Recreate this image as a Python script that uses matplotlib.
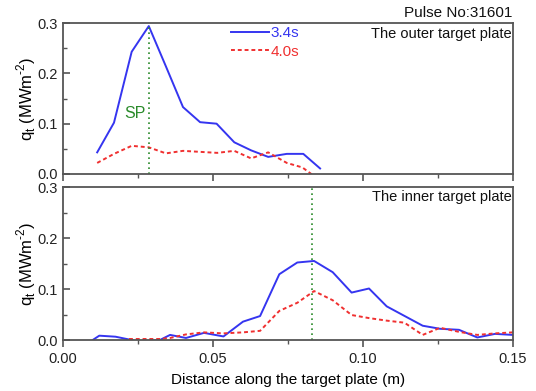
import matplotlib
matplotlib.use("Agg")
import matplotlib.pyplot as plt
from matplotlib.ticker import MultipleLocator

plt.rcParams['font.family'] = ['Liberation Sans', 'DejaVu Sans']
plt.rcParams['mathtext.fontset'] = 'custom'
plt.rcParams['mathtext.rm'] = 'Liberation Sans'

# Outer target plate
outer_x_34 = [0.0114, 0.0170, 0.0229, 0.0286, 0.0343, 0.0400, 0.0457, 0.0512, 0.0571,
              0.0627, 0.0684, 0.0746, 0.0801, 0.0857]
outer_q_34 = [0.043, 0.102, 0.243, 0.294, 0.214, 0.133, 0.103, 0.100, 0.063,
              0.047, 0.034, 0.040, 0.040, 0.011]
outer_x_40 = [0.0114, 0.0170, 0.0229, 0.0286, 0.0343, 0.0400, 0.0457, 0.0514, 0.0571,
              0.0627, 0.0684, 0.0746, 0.0798, 0.0855]
outer_q_40 = [0.022, 0.040, 0.056, 0.053, 0.041, 0.046, 0.044, 0.042, 0.046,
              0.031, 0.043, 0.022, 0.013, -0.012]

# Inner target plate
inner_x_34 = [0.0099, 0.0121, 0.0175, 0.0229, 0.0250, 0.0323, 0.0357, 0.0410, 0.0470,
              0.0535, 0.0600, 0.0657, 0.0721, 0.0781, 0.0837, 0.0899, 0.0962, 0.1020,
              0.1079, 0.1199, 0.1257, 0.1320, 0.1381, 0.1440, 0.1500]
inner_q_34 = [0.000, 0.0085, 0.0065, 0.000, -0.003, 0.000, 0.010, 0.004, 0.014,
              0.007, 0.036, 0.047, 0.129, 0.152, 0.155, 0.133, 0.093, 0.101,
              0.066, 0.028, 0.022, 0.020, 0.005, 0.012, 0.010]
inner_x_40 = [0.0220, 0.0270, 0.0323, 0.0357, 0.0410, 0.0470, 0.0535, 0.0600, 0.0657,
              0.0721, 0.0781, 0.0837, 0.0899, 0.0962, 0.1020, 0.1079, 0.1138, 0.1199,
              0.1257, 0.1320, 0.1381, 0.1440, 0.1500]
inner_q_40 = [0.002, 0.002, 0.002, 0.004, 0.011, 0.015, 0.013, 0.015, 0.018,
              0.057, 0.073, 0.096, 0.078, 0.049, 0.043, 0.038, 0.034, 0.010,
              0.024, 0.016, 0.010, 0.013, 0.015]

sp_outer_x = 0.0286
sp_outer_top = 0.294
sp_inner_x = 0.0831

series_labels = ["3.4s", "4.0s"]
x_ticks = [0.00, 0.05, 0.10, 0.15]
y_ticks = [0.0, 0.1, 0.2, 0.3]

BLUE = '#3535f0'
RED = '#f03030'
GREEN = '#2a8a2a'
SPINE = '#555555'

fig = plt.figure(figsize=(5.36, 3.91), dpi=100)
ax1 = fig.add_axes([0.1175, 0.555, 0.8396, 0.386])
ax2 = fig.add_axes([0.1175, 0.1304, 0.8396, 0.3913])

for ax in (ax1, ax2):
    ax.set_xlim(0, 0.15)
    ax.set_ylim(0, 0.3)
    ax.set_xticks(x_ticks)
    ax.set_yticks(y_ticks)
    ax.xaxis.set_minor_locator(MultipleLocator(0.025))
    ax.yaxis.set_minor_locator(MultipleLocator(0.05))
    ax.tick_params(axis='x', which='both', direction='out', colors=SPINE, labelcolor='#222222', labelsize=10.5)
    ax.tick_params(axis='x', which='major', length=5, width=1.2)
    ax.tick_params(axis='x', which='minor', length=3, width=1.0)
    ax.tick_params(axis='y', which='both', direction='in', colors=SPINE, labelcolor='#222222', labelsize=10.5)
    ax.tick_params(axis='y', which='major', length=5, width=1.2)
    ax.tick_params(axis='y', which='minor', length=3, width=1.0)
    for s in ax.spines.values():
        s.set_color(SPINE)
        s.set_linewidth(1.3)
    ax.set_yticklabels(['0.0', '0.1', '0.2', '0.3'])
    ax.set_ylabel(r'q$_{\mathrm{t}}$ (MWm$^{\mathrm{\text{-}2}}$)', fontsize=12, labelpad=0)

ax1.set_xticklabels([])
ax2.set_xticklabels(['0.00', '0.05', '0.10', '0.15'])
ax2.set_xlabel('Distance along the target plate (m)', fontsize=11, labelpad=5)

# Outer
ax1.plot(outer_x_34, outer_q_34, color=BLUE, lw=1.4, label=series_labels[0])
ax1.plot(outer_x_40, outer_q_40, color=RED, lw=1.4, ls=(0, (2, 1.5)), label=series_labels[1])
ax1.plot([sp_outer_x, sp_outer_x], [0, sp_outer_top], color=GREEN, lw=1.2, ls=(0, (1, 2)))
ax1.text(sp_outer_x - 0.0012, 0.121, 'SP', color=GREEN, fontsize=11.5, ha='right', va='center')
ax1.text(0.1495, 0.293, 'The outer target plate', ha='right', va='top', fontsize=10.5, color='#111111')
leg = ax1.legend(loc='upper left', bbox_to_anchor=(0.36, 1.02), frameon=False, fontsize=11,
                 handlelength=2.5, handletextpad=0.1, labelspacing=0.3, borderaxespad=0)
for t, c in zip(leg.get_texts(), [BLUE, RED]):
    t.set_color(c)

# Inner
ax2.plot(inner_x_34, inner_q_34, color=BLUE, lw=1.4)
ax2.plot(inner_x_40, inner_q_40, color=RED, lw=1.4, ls=(0, (2, 1.5)))
ax2.axvline(sp_inner_x, color=GREEN, lw=1.2, ls=(0, (1, 2)))
ax2.text(0.1495, 0.294, 'The inner target plate', ha='right', va='top', fontsize=10.5, color='#111111')

fig.text(0.955, 0.968, 'Pulse No:31601', ha='right', va='center', fontsize=11, color='#111111')

fig.savefig('out.png', dpi=100)
